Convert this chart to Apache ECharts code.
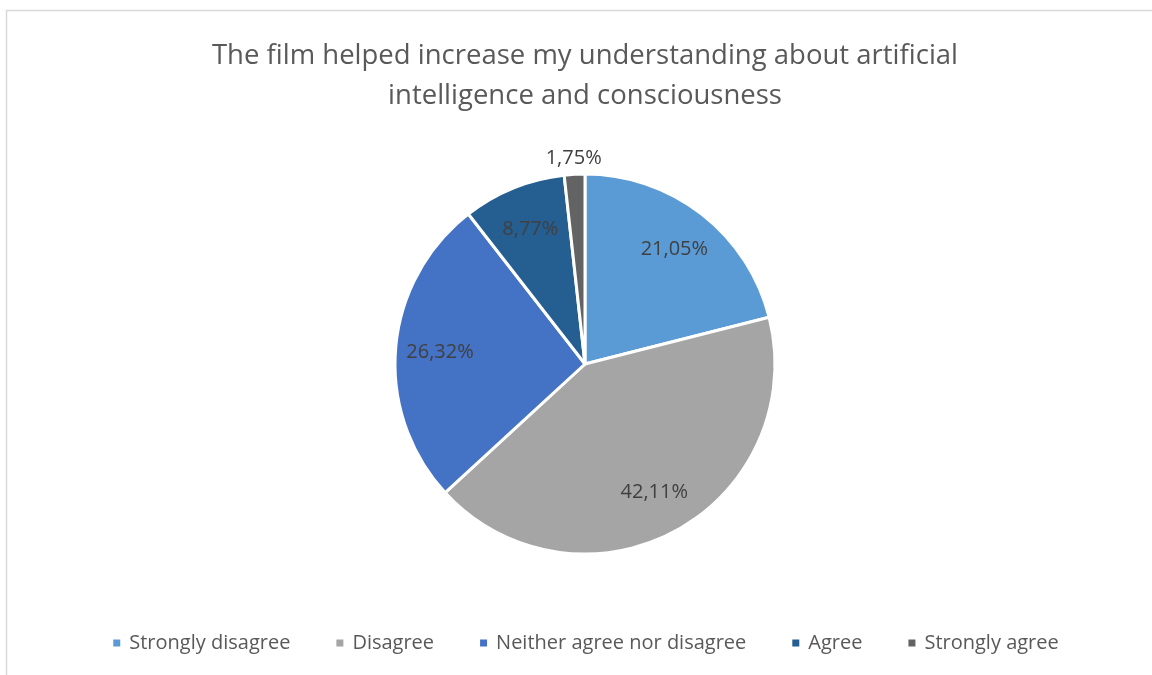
<!DOCTYPE html>
<html>
<head>
<meta charset="utf-8">
<script src="https://cdn.jsdelivr.net/npm/echarts@6/dist/echarts.min.js"></script>
<style>
  html, body { margin: 0; padding: 0; background: #ffffff; overflow: hidden; }
  #chart { width: 1170px; height: 675px; }
</style>
</head>
<body>
<div id="chart"></div>
<script>
// Survey responses: share of respondents per answer (%)
const categories = ['Strongly disagree', 'Disagree', 'Neither agree nor disagree', 'Agree', 'Strongly agree'];
const shares = [21.05, 42.11, 26.32, 8.77, 1.75];
const colors = ['#5B9BD5', '#A5A5A5', '#4472C4', '#255E91', '#636363'];
const titleText = 'The film helped increase my understanding about artificial\nintelligence and consciousness';

const FONT = '"Open Sans", "Noto Sans", sans-serif';
const fmtPct = v => v.toFixed(2).replace('.', ',') + '%';

const chart = echarts.init(document.getElementById('chart'), null, { renderer: 'canvas' });

const sliceData = categories.map((name, i) => ({
  name, value: shares[i], itemStyle: { color: colors[i] }
}));

// Label ring: transparent copy of the pie whose inner radius places the
// inside labels at three quarters of the radius.
const labelData = categories.map((name, i) => {
  const small = shares[i] < 5;
  return {
    name, value: shares[i],
    label: small ? { position: 'outside' } : { position: 'inside' }
  };
});

chart.setOption({
  animation: false,
  backgroundColor: '#ffffff',
  title: {
    text: titleText,
    left: 'center',
    top: 31,
    textStyle: {
      fontFamily: FONT, fontSize: 27.5, fontWeight: 'normal',
      color: '#595959', lineHeight: 40
    }
  },
  legend: {
    bottom: 17,
    left: 'center',
    icon: 'rect',
    itemWidth: 9,
    itemHeight: 9,
    itemGap: 44,
    selectedMode: false,
    data: categories,
    textStyle: { fontFamily: FONT, fontSize: 20, color: '#595959', padding: [0, 0, 0, 3] }
  },
  graphic: [{
    type: 'rect',
    shape: { x: 6.5, y: 10.5, width: 1200, height: 700 },
    style: { fill: 'none', stroke: '#d9d9d9', lineWidth: 1.5 },
    silent: true
  }],
  series: [
    {
      type: 'pie',
      name: 'slices',
      center: [585, 364],
      radius: [0, 190],
      startAngle: 90,
      clockwise: true,
      label: { show: false },
      labelLine: { show: false },
      itemStyle: { borderColor: '#ffffff', borderWidth: 3 },
      emphasis: { disabled: true },
      data: sliceData
    },
    {
      type: 'pie',
      name: 'labels',
      center: [585, 364],
      radius: [95, 190],
      startAngle: 90,
      clockwise: true,
      silent: true,
      legendHoverLink: false,
      itemStyle: { color: 'rgba(0,0,0,0)' },
      label: {
        show: true,
        formatter: p => fmtPct(p.value),
        fontFamily: FONT, fontSize: 20, color: '#404040',
        distanceToLabelLine: 0
      },
      labelLine: { show: false, length: 16, length2: 0 },
      labelLayout: p => (p.dataIndex === 4 ? { align: 'center' } : {}),
      emphasis: { disabled: true },
      data: labelData
    }
  ]
});
</script>
</body>
</html>
